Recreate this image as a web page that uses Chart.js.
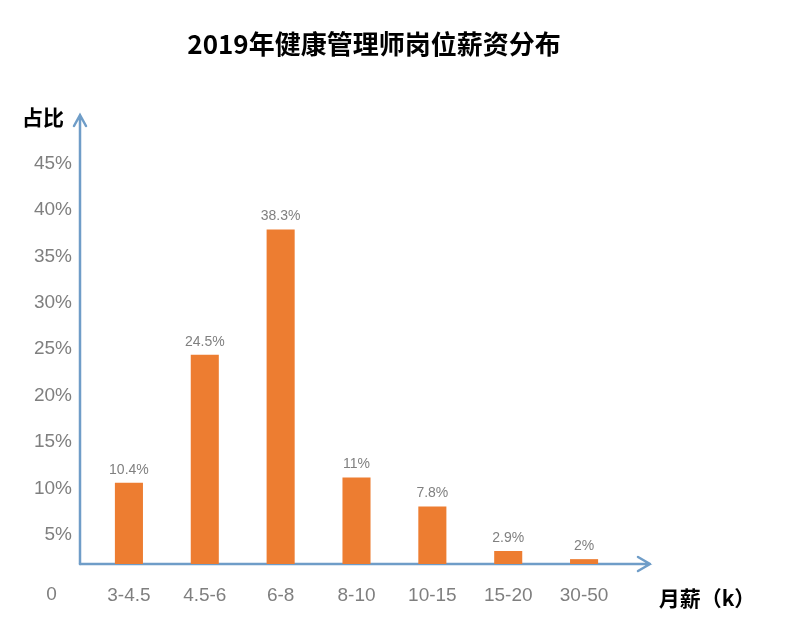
<!DOCTYPE html>
<html><head><meta charset="utf-8">
<script src="https://cdn.jsdelivr.net/npm/chart.js@4.4.0/dist/chart.umd.min.js"></script>
<style>html,body{margin:0;padding:0;background:#fff;}canvas{display:block;}</style>
</head><body>
<canvas id="c" width="788" height="623"></canvas>
<script>
const titleText = '2019年健康管理师岗位薪资分布';
const yAxisTitle = '占比';
const xAxisTitle = '月薪（k）';
const categories = ['3-4.5', '4.5-6', '6-8', '8-10', '10-15', '15-20', '30-50'];
const shares = [10.4, 24.5, 38.3, 11, 7.8, 2.9, 2];
const shareLabels = ['10.4%', '24.5%', '38.3%', '11%', '7.8%', '2.9%', '2%'];
const yTickValues = [5, 10, 15, 20, 25, 30, 35, 40, 45];
const zeroLabel = '0';

const AXIS_COLOR = '#6f9dc8';
const BAR_COLOR = '#ED7D31';
const GRAY = '#7f7f7f';
const LATIN = '"Liberation Sans", Arial, sans-serif';
const CJK = '"Noto Sans CJK SC", "Noto Sans", sans-serif';

const deco = {
  id: 'deco',
  beforeDatasetsDraw(chart) {
    const ctx = chart.ctx, a = chart.chartArea;
    const ax = a.left - 11, ay = a.bottom;
    ctx.save();
    ctx.strokeStyle = AXIS_COLOR;
    ctx.lineWidth = 2.5;
    ctx.lineCap = 'round';
    ctx.beginPath();
    ctx.moveTo(ax, ay); ctx.lineTo(ax, a.top);
    ctx.moveTo(ax - 6, a.top + 11); ctx.lineTo(ax, a.top); ctx.lineTo(ax + 6, a.top + 11);
    ctx.stroke();
    const xt = a.right + 28;
    ctx.beginPath();
    ctx.moveTo(ax, ay); ctx.lineTo(xt, ay);
    ctx.moveTo(xt - 12, ay - 7); ctx.lineTo(xt, ay); ctx.lineTo(xt - 12, ay + 7);
    ctx.stroke();
    ctx.restore();
  },
  afterDatasetsDraw(chart) {
    const ctx = chart.ctx;
    const meta = chart.getDatasetMeta(0);
    ctx.save();
    ctx.fillStyle = '#808080';
    ctx.font = '14px ' + LATIN;
    ctx.textAlign = 'center';
    ctx.textBaseline = 'middle';
    meta.data.forEach((bar, i) => {
      ctx.fillText(shareLabels[i], bar.x, bar.y - 13);
    });
    ctx.restore();
  },
  afterDraw(chart) {
    const ctx = chart.ctx;
    ctx.save();
    ctx.fillStyle = '#000';
    ctx.textAlign = 'center';
    ctx.textBaseline = 'middle';
    ctx.font = 'bold 26px ' + CJK;
    ctx.fillText(titleText, 374, 44);
    ctx.font = 'bold 21px ' + CJK;
    ctx.fillText(yAxisTitle, 43, 117);
    ctx.fillText(xAxisTitle, 707, 598);
    ctx.fillStyle = GRAY;
    ctx.font = '19px ' + LATIN;
    ctx.fillText(zeroLabel, 51.5, 595);
    ctx.restore();
  }
};

new Chart(document.getElementById('c'), {
  type: 'bar',
  data: {
    labels: categories,
    datasets: [{
      data: shares,
      backgroundColor: BAR_COLOR,
      borderWidth: 0,
      barPercentage: 0.37,
      categoryPercentage: 1,
      xAxisID: 'x',
      yAxisID: 'y'
    }]
  },
  options: {
    responsive: false,
    animation: false,
    devicePixelRatio: 1,
    layout: { padding: { top: 115, right: 166, bottom: 0, left: 0 } },
    plugins: { legend: { display: false }, tooltip: { enabled: false }, title: { display: false } },
    scales: {
      x: {
        type: 'category',
        grid: { display: false, drawTicks: false },
        border: { display: false },
        ticks: { color: GRAY, font: { family: LATIN, size: 19 }, padding: 20, maxRotation: 0, minRotation: 0, autoSkip: false },
        afterFit(s) { s.height = 59; }
      },
      yt: {
        type: 'linear',
        position: 'left',
        min: 1.88,
        max: 50.21,
        grid: { display: false, drawTicks: false },
        border: { display: false },
        afterBuildTicks(s) { s.ticks = yTickValues.map(v => ({ value: v })); },
        ticks: { color: GRAY, font: { family: LATIN, size: 19 }, padding: 19, callback: v => v + '%' },
        afterFit(s) { s.width = 91; }
      },
      y: {
        type: 'linear',
        display: false,
        min: 1.465,
        max: 50.91
      }
    }
  },
  plugins: [deco]
});
</script>
</body></html>
